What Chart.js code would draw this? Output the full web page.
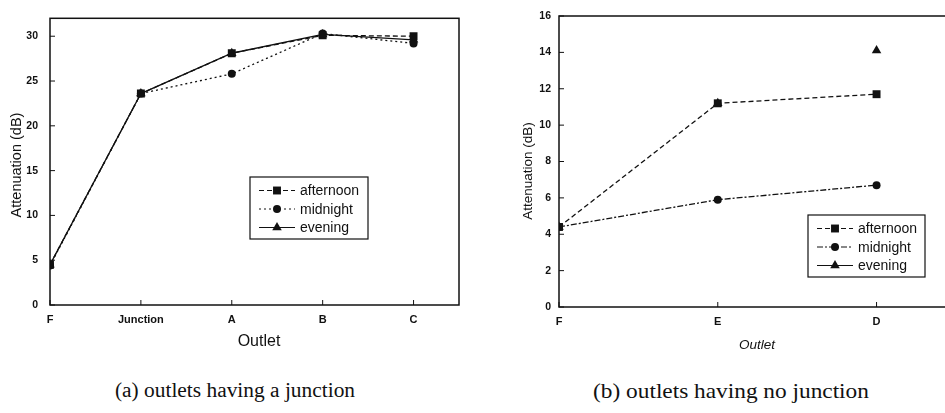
<!DOCTYPE html>
<html>
<head>
<meta charset="utf-8">
<script src="https://cdn.jsdelivr.net/npm/chart.js@4/dist/chart.umd.min.js"></script>
<style>
body { margin: 0; width: 945px; height: 413px; overflow: hidden; background: #fff; position: relative; }
#wrapA { position: absolute; left: 0; top: 0; width: 470px; height: 360px; }
#wrapB { position: absolute; left: 480px; top: 0; width: 480px; height: 360px; }
.cap { position: absolute; top: 379px; font-family: "Liberation Serif", serif; white-space: nowrap; color: #111; }
</style>
</head>
<body>
<div id="wrapA"><canvas id="chartA"></canvas></div>
<div id="wrapB"><canvas id="chartB"></canvas></div>
<div class="cap" style="left:235px;font-size:20px;transform:translateX(-50%) scaleX(1.07)">(a) outlets having a junction</div>
<div class="cap" style="left:731px;font-size:21px;transform:translateX(-50%) scaleX(1.11)">(b) outlets having no junction</div>
<script>
// (a) outlets having a junction
const outletsA = ['F', 'Junction', 'A', 'B', 'C'];
const afternoonA = [4.5, 23.6, 28.1, 30.1, 30.0];
const midnightA = [4.4, 23.6, 25.8, 30.3, 29.2];
const eveningA = [4.5, 23.6, 28.1, 30.2, 29.6];
const yTicksA = [0, 5, 10, 15, 20, 25, 30];

// (b) outlets having no junction
const outletsB = ['F', 'E', 'D'];
const afternoonB = [4.4, 11.2, 11.7];
const midnightB = [4.4, 5.9, 6.7];
const eveningB = [4.4, 11.2, 14.1];
const yTicksB = [0, 2, 4, 6, 8, 10, 12, 14, 16];

const seriesNames = ['afternoon', 'midnight', 'evening'];
const INK = '#111';
const SANS = '"Liberation Sans", Arial, sans-serif';

function marker(ctx, style, x, y, r) {
  ctx.beginPath();
  if (style === 'rect') {
    const s = Math.SQRT1_2 * r;
    ctx.rect(x - s, y - s, 2 * s, 2 * s);
  } else if (style === 'triangle') {
    ctx.moveTo(x, y - r);
    ctx.lineTo(x + r * 0.866, y + r * 0.5);
    ctx.lineTo(x - r * 0.866, y + r * 0.5);
    ctx.closePath();
  } else {
    ctx.arc(x, y, r, 0, Math.PI * 2);
  }
  ctx.fill();
}

// box, inward ticks, axis titles and the legend inside the plot
const framePlugin = {
  id: 'frame',
  afterDraw(chart, args, opts) {
    const { ctx, chartArea: a, scales } = chart;
    ctx.save();
    ctx.strokeStyle = INK;
    ctx.lineWidth = 1.5;
    ctx.strokeRect(a.left, a.top, a.right - a.left, a.bottom - a.top);
    ctx.lineWidth = 1;
    scales.x.ticks.forEach(t => {
      const px = scales.x.getPixelForValue(t.value);
      ctx.beginPath(); ctx.moveTo(px, a.bottom); ctx.lineTo(px, a.bottom - 5); ctx.stroke();
    });
    scales.y.ticks.forEach(t => {
      const py = scales.y.getPixelForValue(t.value);
      ctx.beginPath(); ctx.moveTo(a.left, py); ctx.lineTo(a.left + 5, py); ctx.stroke();
    });

    // axis titles
    ctx.fillStyle = INK;
    ctx.textAlign = 'center';
    ctx.textBaseline = 'middle';
    const xt = opts.xTitle;
    ctx.font = (xt.italic ? 'italic ' : '') + xt.size + 'px ' + SANS;
    ctx.fillText('Outlet', xt.x, xt.y);
    const yt = opts.yTitle;
    ctx.save();
    ctx.translate(yt.x, yt.y);
    ctx.rotate(-Math.PI / 2);
    ctx.font = yt.size + 'px ' + SANS;
    ctx.fillText('Attenuation (dB)', 0, 0);
    ctx.restore();

    // legend
    const b = opts.box;
    ctx.fillStyle = '#fff';
    ctx.fillRect(b.x, b.y, b.w, b.h);
    ctx.lineWidth = 1.2;
    ctx.strokeRect(b.x, b.y, b.w, b.h);
    ctx.font = '14px ' + SANS;
    ctx.textAlign = 'left';
    chart.data.datasets.forEach((ds, i) => {
      const y = b.y + 13.5 + i * 18.5;
      ctx.strokeStyle = INK;
      ctx.lineWidth = 1;
      ctx.setLineDash(ds.borderDash || []);
      ctx.beginPath(); ctx.moveTo(b.x + 9, y); ctx.lineTo(b.x + 45, y); ctx.stroke();
      ctx.setLineDash([]);
      ctx.fillStyle = INK;
      marker(ctx, ds.pointStyle, b.x + 27, y, ds.pointRadius);
      ctx.fillText(ds.label, b.x + 50, y + 1);
    });
    ctx.restore();
  }
};

function makeChart(id, cats, values, styles, yTicks, yMax, xMax, cfg) {
  const datasets = values.map((v, i) => ({
    label: seriesNames[i],
    data: v,
    borderColor: INK,
    backgroundColor: INK,
    borderWidth: 1.3,
    borderDash: styles[i].dash,
    showLine: styles[i].line,
    pointStyle: styles[i].point,
    pointRadius: styles[i].r,
    pointBorderWidth: 0,
    tension: 0
  }));
  return new Chart(document.getElementById(id), {
    type: 'line',
    data: { labels: cats.map((c, i) => i), datasets },
    options: {
      responsive: true,
      maintainAspectRatio: false,
      animation: false,
      layout: { padding: cfg.padding },
      plugins: {
        legend: { display: false },
        tooltip: { enabled: false },
        frame: { box: cfg.box, xTitle: cfg.xTitle, yTitle: cfg.yTitle }
      },
      scales: {
        x: {
          type: 'linear', min: 0, max: xMax,
          grid: { display: false, drawTicks: false },
          border: { display: false },
          afterFit: s => { s.height = cfg.xHeight; },
          afterBuildTicks: s => { s.ticks = cats.map((c, i) => ({ value: i })); },
          ticks: {
            padding: 8, color: INK, maxRotation: 0,
            font: { family: SANS, size: cfg.tickSize + 0.5, weight: 'bold' },
            callback: v => cats[v] ?? ''
          }
        },
        y: {
          min: 0, max: yMax,
          grid: { display: false, drawTicks: false },
          border: { display: false },
          afterFit: s => { s.width = cfg.yWidth; },
          afterBuildTicks: s => { s.ticks = yTicks.map(v => ({ value: v })); },
          ticks: {
            padding: cfg.yPad, color: INK,
            font: { family: SANS, size: cfg.tickSize, weight: 'bold' }
          }
        }
      }
    },
    plugins: [framePlugin]
  });
}

makeChart('chartA', outletsA, [afternoonA, midnightA, eveningA], [
  { dash: [5, 3], line: true, point: 'rect', r: 5.6 },
  { dash: [2, 3], line: true, point: 'circle', r: 4 },
  { dash: [], line: true, point: 'triangle', r: 5.5 }
], yTicksA, 32, 4.5, {
  padding: { top: 8, right: 11, left: 0, bottom: 0 },
  xHeight: 55, yWidth: 50, yPad: 12, tickSize: 10.5,
  xTitle: { x: 259, y: 342, size: 16 },
  yTitle: { x: 16.5, y: 165, size: 14.5 },
  box: { x: 250, y: 177, w: 118, h: 62 }
});

makeChart('chartB', outletsB, [afternoonB, midnightB, eveningB], [
  { dash: [5, 3], line: true, point: 'rect', r: 5.6 },
  { dash: [6, 2, 2, 2], line: true, point: 'circle', r: 4 },
  { dash: [], line: false, point: 'triangle', r: 5.5 }
], yTicksB, 16, 2.45, {
  padding: { top: 16, right: 12, left: 40, bottom: 0 },
  xHeight: 53, yWidth: 39, yPad: 8, tickSize: 10.5,
  xTitle: { x: 277, y: 345, size: 13.5, italic: true },
  yTitle: { x: 48, y: 171, size: 13.5 },
  box: { x: 328, y: 215, w: 117, h: 62 }
});
</script>
</body>
</html>
